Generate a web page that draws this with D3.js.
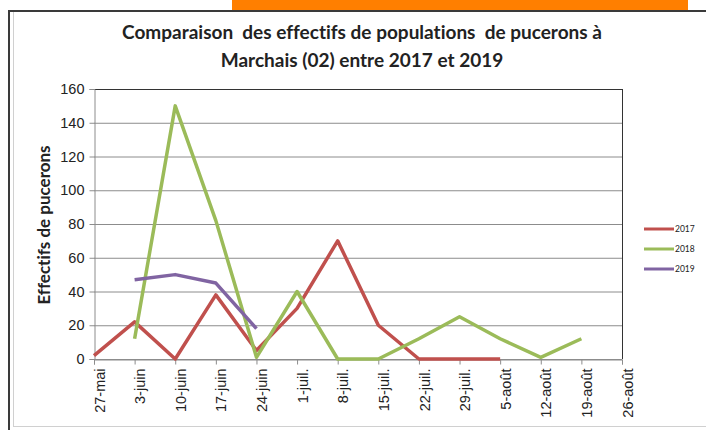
<!DOCTYPE html>
<html>
<head>
<meta charset="utf-8">
<script src="https://cdn.jsdelivr.net/npm/d3@7"></script>
<style>
    body { margin: 0; background: #fff; }
    svg { display: block; font-family: Lato, "Liberation Sans", sans-serif; font-variant-ligatures: none; }
</style>
</head>
<body>
<svg id="chart" width="706" height="430"></svg>
<script>
const weeks = ["27-mai", "3-juin", "10-juin", "17-juin", "24-juin", "1-juil.", "8-juil.",
    "15-juil.", "22-juil.", "29-juil.", "5-août", "12-août", "19-août", "26-août"];
const v2017 = [2, 22, 0, 38, 5, 30, 70, 20, 0, 0, 0, null, null, null];
const v2018 = [null, 12, 150, 82, 1, 40, 0, 0, 12, 25, 12, 1, 12, null];
const v2019 = [null, 47, 50, 45, 18, null, null, null, null, null, null, null, null, null];
const yTicks = [0, 20, 40, 60, 80, 100, 120, 140, 160];

const series = [
    { name: "2017", values: v2017, color: "#c0504d" },
    { name: "2018", values: v2018, color: "#9bbb59" },
    { name: "2019", values: v2019, color: "#8064a2" }
];

let svg = d3.select("#chart");

// frame around the picture
svg.append("rect").attr("x", 232).attr("y", 0).attr("width", 456).attr("height", 12)
    .attr("fill", "#ff7f00");
svg.append("line").attr("x1", 8).attr("x2", 706).attr("y1", 11).attr("y2", 11)
    .attr("stroke", "#3a3a3a").attr("stroke-width", 2);
svg.append("line").attr("x1", 9).attr("x2", 9).attr("y1", 10).attr("y2", 430)
    .attr("stroke", "#3a3a3a").attr("stroke-width", 2);
svg.append("line").attr("x1", 13.5).attr("x2", 13.5).attr("y1", 12).attr("y2", 427)
    .attr("stroke", "#d0d0d0");
svg.append("line").attr("x1", 13).attr("x2", 706).attr("y1", 426.5).attr("y2", 426.5)
    .attr("stroke", "#d0d0d0");

let x = d3.scalePoint()
    .domain(weeks)
    .range([94, 622]);

let y = d3.scaleLinear()
    .domain([0, 160])
    .range([359, 89]);

// gridlines
svg.append("g")
    .selectAll("line")
    .data(yTicks)
    .join("line")
    .attr("x1", 94).attr("x2", 622)
    .attr("y1", d => y(d) + 0.5).attr("y2", d => y(d) + 0.5)
    .attr("stroke", d => d === 160 ? "#333" : "#8c8c8c");

svg.append("line").attr("x1", 622.5).attr("x2", 622.5).attr("y1", 89).attr("y2", 359)
    .attr("stroke", "#333");

// Y axis
let yAxis = svg.append("g")
    .attr("transform", "translate(94.5,0)")
    .call(d3.axisLeft(y).tickValues(yTicks).tickSize(5).tickPadding(5));
yAxis.select(".domain").attr("stroke", "#8c8c8c");
yAxis.selectAll(".tick line").attr("stroke", "#8c8c8c");
yAxis.selectAll("text").attr("font-size", 14.5).attr("fill", "#222");

// X axis
let xAxis = svg.append("g")
    .attr("transform", "translate(0,359.5)")
    .call(d3.axisBottom(x).tickSize(5).tickPadding(0));
xAxis.select(".domain").attr("stroke", "#8c8c8c");
xAxis.selectAll(".tick line").attr("stroke", "#8c8c8c");
xAxis.selectAll("text")
    .attr("font-size", 14.5).attr("fill", "#222")
    .attr("text-anchor", "end")
    .attr("dy", "0.35em")
    .attr("transform", "translate(0,9) rotate(-90)");

let line = d3.line()
    .defined(d => d.v !== null)
    .x(d => x(d.w))
    .y(d => y(d.v));

svg.append("g")
    .selectAll("path")
    .data(series)
    .join("path")
    .attr("d", s => line(s.values.map((v, i) => ({ w: weeks[i], v: v }))))
    .attr("fill", "none")
    .attr("stroke", s => s.color)
    .attr("stroke-width", 3.5)
    .attr("stroke-linejoin", "round");

// Legend
let legend = svg.append("g")
    .selectAll("g")
    .data(series)
    .join("g")
    .attr("transform", (d, i) => `translate(644,${229 + i * 20})`);
legend.append("line").attr("x1", 0).attr("x2", 30)
    .attr("stroke", d => d.color).attr("stroke-width", 3);
legend.append("text").attr("x", 31).attr("dy", "0.35em")
    .attr("font-size", 8.5).attr("fill", "#222").text(d => d.name);

// Titles
svg.append("text").attr("x", 362).attr("y", 39).attr("text-anchor", "middle")
    .attr("font-size", 19).attr("font-weight", "bold").attr("fill", "#222")
    .attr("xml:space", "preserve")
    .text("Comparaison  des effectifs de populations  de pucerons à");
svg.append("text").attr("x", 362).attr("y", 67).attr("text-anchor", "middle")
    .attr("font-size", 19).attr("font-weight", "bold").attr("fill", "#222")
    .text("Marchais (02) entre 2017 et 2019");

svg.append("text")
    .attr("transform", "translate(50,225) rotate(-90)")
    .attr("text-anchor", "middle")
    .attr("font-size", 17).attr("font-weight", "bold").attr("fill", "#222")
    .text("Effectifs de pucerons");
</script>
</body>
</html>
